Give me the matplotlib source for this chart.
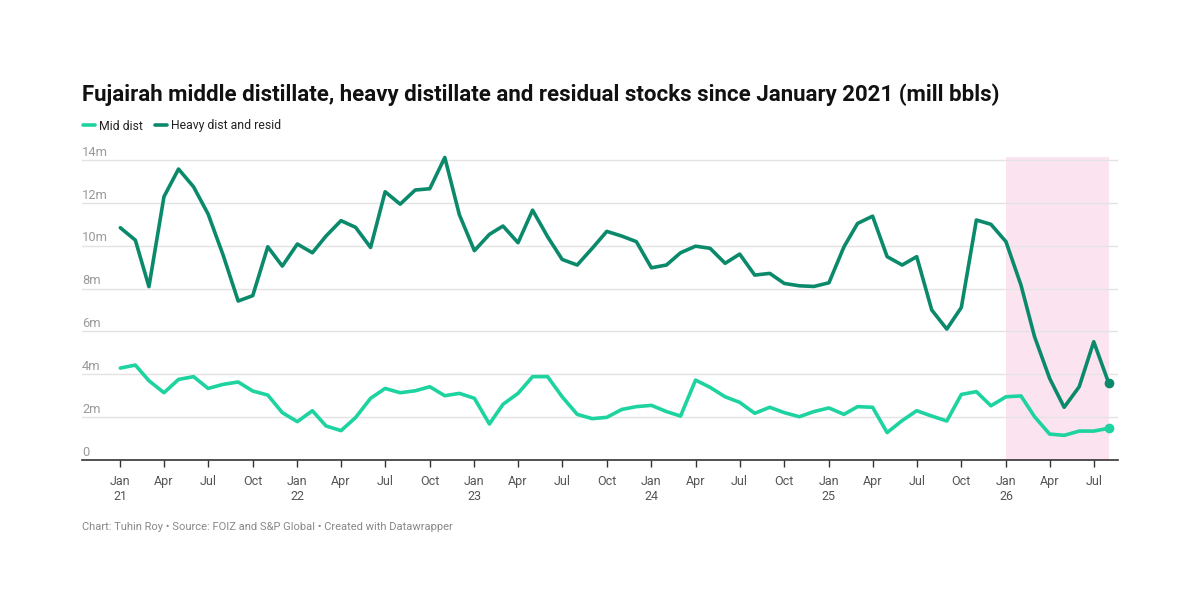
import matplotlib
matplotlib.use("Agg")
import matplotlib.pyplot as plt
import matplotlib.dates as mdates
import pandas as pd

plt.rcParams['font.family'] = ['Roboto', 'DejaVu Sans']

# monthly, Jan 2021 .. Aug 2026 (mill bbls)
months = pd.date_range("2021-01-01", "2026-08-01", freq="MS")

mid_dist = [4.29, 4.43, 3.70, 3.14, 3.76, 3.89, 3.34, 3.53, 3.64, 3.22, 3.03, 2.21,
            1.79, 2.30, 1.59, 1.37, 1.98, 2.88, 3.34, 3.14, 3.23, 3.42, 3.00, 3.11,
            2.88, 1.68, 2.60, 3.11, 3.89, 3.89, 2.95, 2.13, 1.93, 1.99, 2.36, 2.49,
            2.55, 2.26, 2.05, 3.73, 3.39, 2.95, 2.69, 2.18, 2.46, 2.21, 2.02, 2.26,
            2.43, 2.13, 2.49, 2.46, 1.28, 1.84, 2.30, 2.05, 1.82, 3.06, 3.19, 2.53,
            2.95, 2.99, 2.02, 1.21, 1.15, 1.35, 1.35, 1.48]

heavy_resid = [10.84, 10.26, 8.09, 12.29, 13.58, 12.75, 11.48, 9.56, 7.42, 7.67, 9.95, 9.05,
               10.08, 9.67, 10.45, 11.17, 10.86, 9.92, 12.52, 11.94, 12.60, 12.66, 14.12, 11.45,
               9.77, 10.53, 10.92, 10.14, 11.66, 10.42, 9.36, 9.10, 9.88, 10.67, 10.45, 10.19,
               8.97, 9.10, 9.67, 9.98, 9.88, 9.18, 9.61, 8.63, 8.71, 8.24, 8.13, 8.10,
               8.27, 9.95, 11.04, 11.38, 9.49, 9.10, 9.49, 7.00, 6.11, 7.12, 11.20, 11.00,
               10.19, 8.16, 5.75, 3.81, 2.46, 3.42, 5.52, 3.58]

y_ticks = [0, 2, 4, 6, 8, 10, 12, 14]
highlight = ("2026-01-01", "2026-08-01")

mid_col = "#1dd3a0"
heavy_col = "#0b8a6b"

fig = plt.figure(figsize=(12, 6.16), dpi=100)
ax = fig.add_axes([82/1200, 156/616, 1036/1200, 0.4974])

ax.set_ylim(0, 14.3)
ax.set_xlim(months[0] - pd.Timedelta(days=79), months[-1] + pd.Timedelta(days=19))

ax.axvspan(pd.Timestamp(highlight[0]), pd.Timestamp(highlight[1]),
           ymin=0, ymax=14.15/14.3, color="#fce3f0", lw=0, zorder=0)

for v in y_ticks[1:]:
    ax.axhline(v, color="#e3e3e3", lw=1, zorder=1)

l1, = ax.plot(months, mid_dist, color=mid_col, lw=2.6, solid_capstyle="round",
              solid_joinstyle="round", zorder=3, label="Mid dist")
l2, = ax.plot(months, heavy_resid, color=heavy_col, lw=2.6, solid_capstyle="round",
              solid_joinstyle="round", zorder=3, label="Heavy dist and resid")
ax.plot(months[-1], mid_dist[-1], "o", color=mid_col, ms=6, zorder=4)
ax.plot(months[-1], heavy_resid[-1], "o", color=heavy_col, ms=6, zorder=4)

for v in y_ticks:
    lab = "0" if v == 0 else f"{v}m"
    ax.text(0, v + 0.06, lab, transform=ax.get_yaxis_transform(), ha="left", va="bottom",
            fontsize=9.3, color="#9a9a9a")

for s in ["top", "right", "left"]:
    ax.spines[s].set_visible(False)
ax.spines["bottom"].set_color("#333333")
ax.spines["bottom"].set_linewidth(1.2)
ax.set_yticks([])

ax.xaxis.set_major_locator(mdates.MonthLocator(bymonth=[1, 4, 7, 10]))
ax.xaxis.set_major_formatter(plt.FuncFormatter(
    lambda x, p: mdates.num2date(x).strftime("%b\n%y") if mdates.num2date(x).month == 1
    else mdates.num2date(x).strftime("%b")))
ax.tick_params(axis="x", length=5, width=1, color="#333333", labelsize=9,
               labelcolor="#555555", pad=6)
for t in ax.get_xticklabels():
    t.set_linespacing(1.15)

fig.text(82/1200, 1 - 95/616, "Fujairah middle distillate, heavy distillate and residual stocks since January 2021 (mill bbls)",
         fontsize=16, fontweight="bold", color="#111111", va="center", ha="left")

fig.legend(handles=[l1, l2], loc="center left", bbox_to_anchor=(72/1200, 1 - 126/616),
           ncol=2, frameon=False, fontsize=8.8, handlelength=1.0, handletextpad=0.3,
           columnspacing=1.0, labelcolor="#222222")

fig.text(82/1200, 1 - 527/616, "Chart: Tuhin Roy \u2022 Source: FOIZ and S&P Global \u2022 Created with Datawrapper",
         fontsize=8.05, color="#888888", va="center", ha="left")

fig.savefig("out.png", dpi=100)
